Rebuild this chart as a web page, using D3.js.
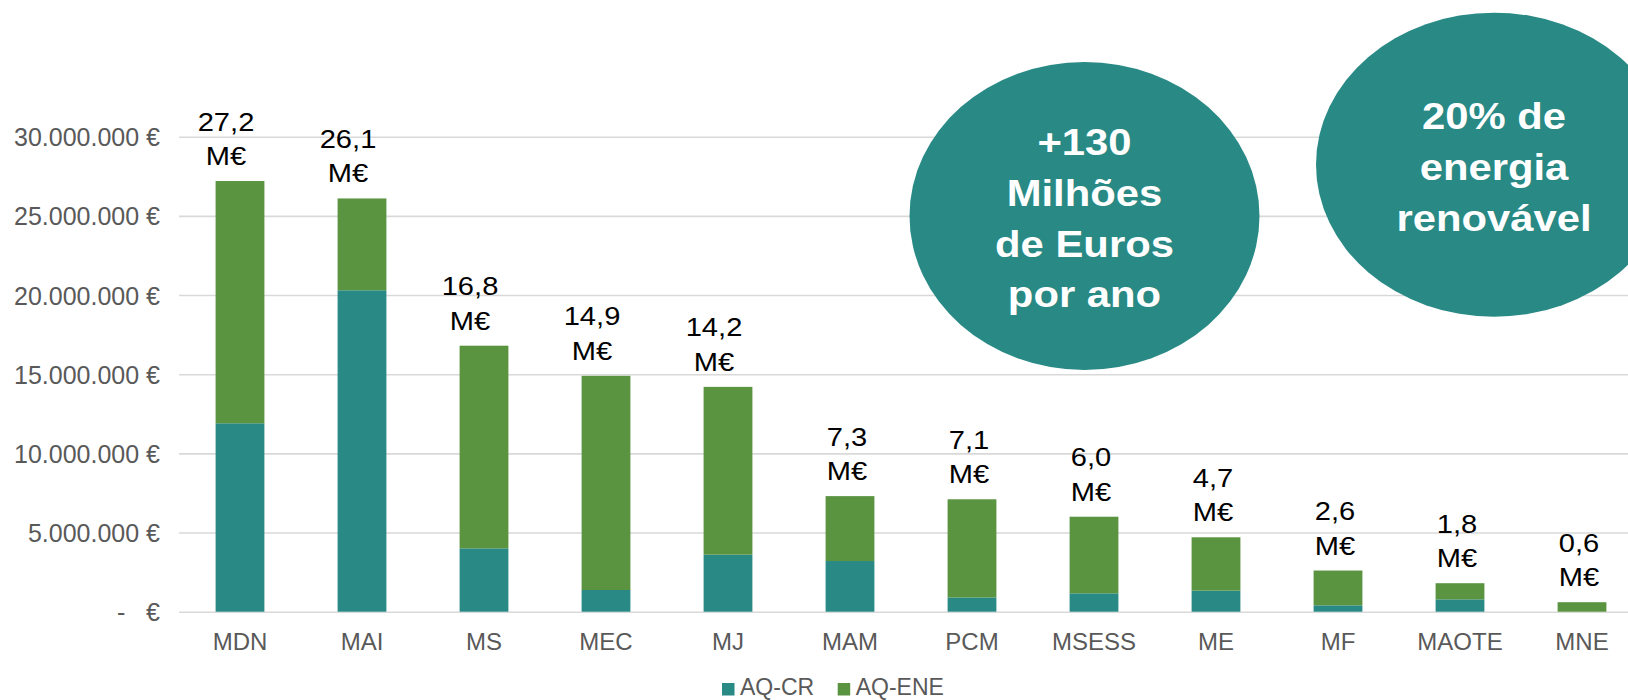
<!DOCTYPE html>
<html lang="pt">
<head>
<meta charset="UTF-8" />
<title>AQ-CR / AQ-ENE</title>
<script src="https://cdn.jsdelivr.net/npm/d3@7"></script>
<style>
    body { margin: 0; background: #fff; overflow: hidden; }
    text { font-family: "Liberation Sans", Arial, sans-serif; }
</style>
</head>
<body>
<script>
    // data (millions of euros)
    const categories = ["MDN", "MAI", "MS", "MEC", "MJ", "MAM", "PCM", "MSESS", "ME", "MF", "MAOTE", "MNE"];
    const aqCR = [11.9, 20.3, 4.0, 1.37, 3.6, 3.2, 0.9, 1.16, 1.33, 0.4, 0.78, 0];
    const aqENE = [15.3, 5.8, 12.8, 13.53, 10.6, 4.1, 6.2, 4.84, 3.37, 2.2, 1.02, 0.6];
    const totalLabels = ["27,2", "26,1", "16,8", "14,9", "14,2", "7,3", "7,1", "6,0", "4,7", "2,6", "1,8", "0,6"];
    const yTicks = [0, 5e6, 10e6, 15e6, 20e6, 25e6, 30e6];
    const seriesNames = ["AQ-CR", "AQ-ENE"];
    const bubbleLines = [
        ["+130", "Milhões", "de Euros", "por ano"],
        ["20% de", "energia", "renovável"]
    ];

    const w = 1628, h = 700;
    const teal = "#288985", green = "#5b9441";
    const color = d3.scaleOrdinal().domain(seriesNames).range([teal, green]);

    const svg = d3.select("body").append("svg")
        .attr("width", w)
        .attr("height", h);

    // plot area runs past the right edge, like the original slide
    const x = d3.scaleBand()
        .domain(categories)
        .range([179, 1643])
        .paddingInner(0.6)
        .paddingOuter(0.3);

    const y = d3.scaleLinear()
        .domain([0, 30e6])
        .range([611.7, 136.7]);

    const pt = d3.formatLocale({ decimal: ",", thousands: ".", grouping: [3], currency: ["", " €"] });
    const fmt = pt.format(",.0f");

    // y axis + gridlines
    const yAxis = svg.append("g")
        .attr("transform", "translate(179,0)")
        .call(d3.axisLeft(y)
            .tickValues(yTicks)
            .tickSize(-(1643 - 179))
            .tickPadding(19)
            .tickFormat(d => d === 0 ? "-   €" : fmt(d) + " €"));
    yAxis.select(".domain").remove();
    yAxis.selectAll("line").attr("stroke", "#d9d9d9").attr("stroke-width", 1.6);
    yAxis.selectAll("text")
        .attr("fill", "#595959")
        .style("font-size", "25px")
        .style("white-space", "pre")
        .attr("dy", "0.36em");

    // stacked bars
    const rows = categories.map((c, i) => ({ cat: c, "AQ-CR": aqCR[i] * 1e6, "AQ-ENE": aqENE[i] * 1e6 }));
    const stacked = d3.stack().keys(seriesNames)(rows);

    svg.append("g").selectAll("g")
        .data(stacked)
        .join("g")
        .attr("fill", d => color(d.key))
        .selectAll("rect")
        .data(d => d)
        .join("rect")
        .attr("x", d => x(d.data.cat))
        .attr("width", x.bandwidth())
        .attr("y", d => y(d[1]))
        .attr("height", d => y(d[0]) - y(d[1]));

    // x labels
    svg.append("g").selectAll("text")
        .data(categories)
        .join("text")
        .attr("x", d => x(d) + x.bandwidth() / 2)
        .attr("y", 650)
        .attr("text-anchor", "middle")
        .attr("fill", "#595959")
        .style("font-size", "24px")
        .text(d => d);

    // total labels above the bars (two lines)
    const lab = svg.append("g").selectAll("g")
        .data(categories)
        .join("g")
        .attr("transform", (d, i) => {
            const tot = (aqCR[i] + aqENE[i]) * 1e6;
            const dx = tot >= 10e6 ? -14 : -3;
            return `translate(${x(d) + x.bandwidth() / 2 + dx},${y(tot) - 16}) scale(1.12,1)`;
        });
    lab.append("text")
        .attr("y", -34.5)
        .attr("text-anchor", "middle")
        .style("font-size", "26px")
        .attr("fill", "#000")
        .text((d, i) => totalLabels[i]);
    lab.append("text")
        .attr("text-anchor", "middle")
        .style("font-size", "26px")
        .attr("fill", "#000")
        .text("M€");

    // callout bubbles
    const bubbles = [
        { cx: 1084.5, cy: 216, rx: 175, ry: 154, top: 155, lines: bubbleLines[0] },
        { cx: 1494, cy: 164.7, rx: 178, ry: 152, top: 129.3, lines: bubbleLines[1] }
    ];
    const bg = svg.append("g").selectAll("g")
        .data(bubbles)
        .join("g");
    bg.append("ellipse")
        .attr("cx", d => d.cx)
        .attr("cy", d => d.cy)
        .attr("rx", d => d.rx)
        .attr("ry", d => d.ry)
        .attr("fill", teal);
    bg.each(function (d) {
        d3.select(this).selectAll("text")
            .data(d.lines)
            .join("text")
            .attr("transform", (t, k) => `translate(${d.cx},${d.top + k * 50.8}) scale(1.13,1)`)
            .attr("text-anchor", "middle")
            .attr("fill", "#fff")
            .style("font-size", "37px")
            .style("font-weight", "bold")
            .text(t => t);
    });

    // legend
    const leg = svg.append("g").selectAll("g")
        .data(seriesNames)
        .join("g")
        .attr("transform", (d, i) => `translate(${722 + i * 115.7},0)`);
    leg.append("rect")
        .attr("y", 683)
        .attr("width", 12.5)
        .attr("height", 12.5)
        .attr("fill", d => color(d));
    leg.append("text")
        .attr("x", 18)
        .attr("y", 695)
        .attr("fill", "#595959")
        .style("font-size", "23px")
        .text(d => d);
</script>
</body>
</html>
